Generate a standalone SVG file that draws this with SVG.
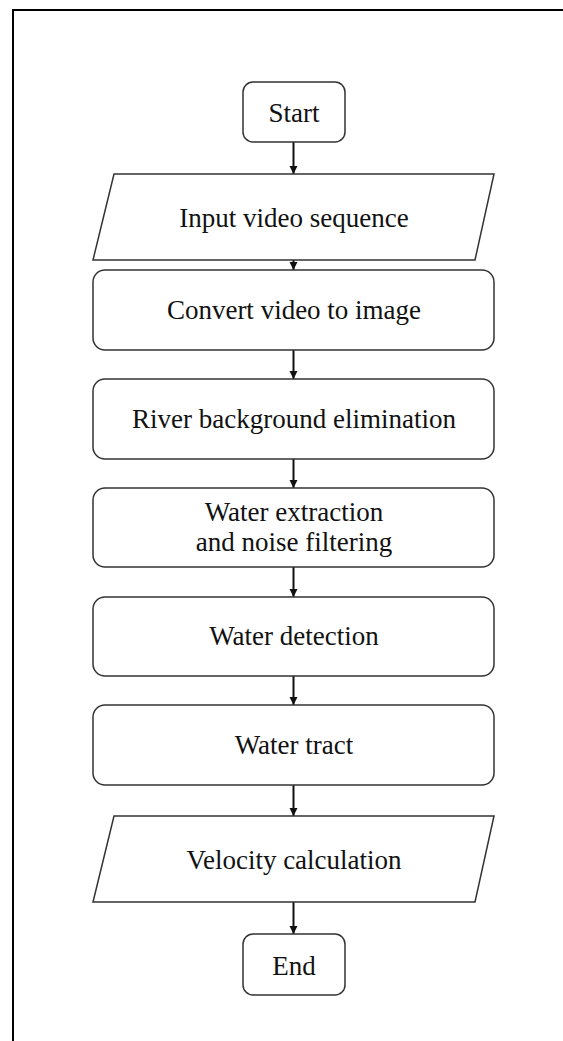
<svg xmlns="http://www.w3.org/2000/svg" width="563" height="1041" viewBox="0 0 563 1041">
<style>
.box{fill:#fff;stroke:#333;stroke-width:1.5}
.lbl{font-family:"Liberation Serif",serif;font-size:27px;fill:#111;text-anchor:middle}
.conn{stroke:#111;stroke-width:2;fill:none}
</style>
<defs>
<marker id="ah" markerUnits="userSpaceOnUse" markerWidth="9" markerHeight="9" refX="8" refY="4.5" orient="auto">
<path d="M0,0.5 L8,4.5 L0,8.5 Z" fill="#111"/>
</marker>
</defs>
<rect x="0" y="0" width="563" height="1041" fill="#fff"/>
<rect x="13" y="10" width="562" height="1045" fill="none" stroke="#000" stroke-width="2"/>
<g id="connectors">
<line class="conn" x1="293.5" y1="142" x2="293.5" y2="174" marker-end="url(#ah)"/>
<line class="conn" x1="293.5" y1="260" x2="293.5" y2="270" marker-end="url(#ah)"/>
<line class="conn" x1="293.5" y1="350" x2="293.5" y2="379" marker-end="url(#ah)"/>
<line class="conn" x1="293.5" y1="459" x2="293.5" y2="488" marker-end="url(#ah)"/>
<line class="conn" x1="293.5" y1="567" x2="293.5" y2="597" marker-end="url(#ah)"/>
<line class="conn" x1="293.5" y1="676" x2="293.5" y2="705" marker-end="url(#ah)"/>
<line class="conn" x1="293.5" y1="785" x2="293.5" y2="816" marker-end="url(#ah)"/>
<line class="conn" x1="293.5" y1="902" x2="293.5" y2="934" marker-end="url(#ah)"/>
</g>
<g id="start">
<rect class="box" x="243" y="82" width="102" height="60" rx="10"/>
<text class="lbl" x="294" y="122">Start</text>
</g>
<g id="input">
<polygon class="box" points="114,174 494,174 475,260 93,260"/>
<text class="lbl" x="294" y="227">Input video sequence</text>
</g>
<g id="convert">
<rect class="box" x="93" y="270" width="401" height="80" rx="12"/>
<text class="lbl" x="294" y="319">Convert video to image</text>
</g>
<g id="river">
<rect class="box" x="93" y="379" width="401" height="80" rx="12"/>
<text class="lbl" x="294" y="428">River background elimination</text>
</g>
<g id="extraction">
<rect class="box" x="93" y="488" width="401" height="79" rx="12"/>
<text class="lbl" x="294" y="521">Water extraction</text>
<text class="lbl" x="294" y="551">and noise filtering</text>
</g>
<g id="detection">
<rect class="box" x="93" y="597" width="401" height="79" rx="12"/>
<text class="lbl" x="294" y="645">Water detection</text>
</g>
<g id="tract">
<rect class="box" x="93" y="705" width="401" height="80" rx="12"/>
<text class="lbl" x="294" y="754">Water tract</text>
</g>
<g id="velocity">
<polygon class="box" points="114,816 494,816 475,902 93,902"/>
<text class="lbl" x="294" y="869">Velocity calculation</text>
</g>
<g id="end">
<rect class="box" x="243" y="934" width="102" height="61" rx="10"/>
<text class="lbl" x="294" y="975">End</text>
</g>
</svg>
